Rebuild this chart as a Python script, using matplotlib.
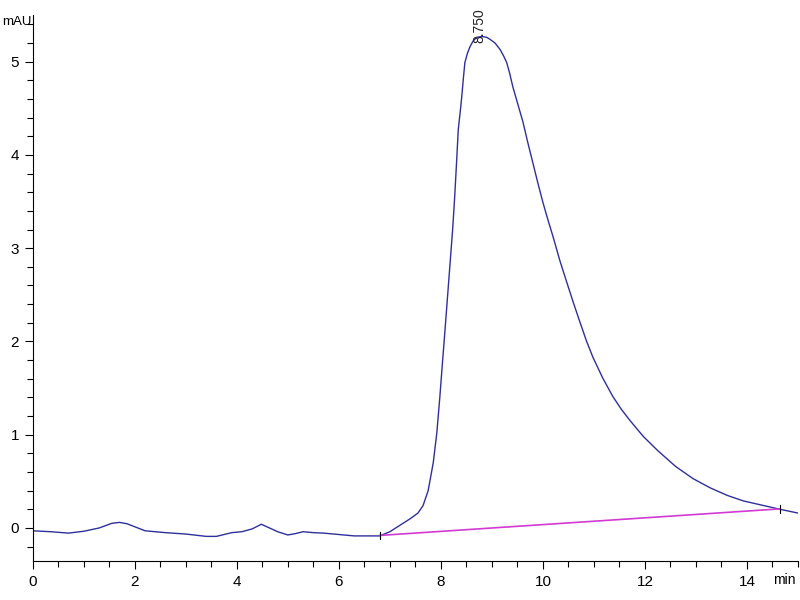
import matplotlib
matplotlib.use("Agg")
import matplotlib.pyplot as plt
from matplotlib.ticker import MultipleLocator

# retention time (min) and absorbance (mAU)
time_min = [0.0, 0.35, 0.7, 1.0, 1.3, 1.55, 1.7, 1.85, 2.2, 2.6, 3.0, 3.4, 3.6,
            3.9, 4.1, 4.3, 4.48, 4.6, 4.8, 5.0, 5.15, 5.3, 5.5, 5.7, 6.0, 6.3,
            6.8, 7.0, 7.2, 7.4, 7.55, 7.65, 7.75, 7.85, 7.92, 7.98, 8.03, 8.08,
            8.13, 8.18, 8.23, 8.27, 8.31, 8.34, 8.38, 8.41, 8.44, 8.47, 8.52,
            8.57, 8.63, 8.70, 8.80, 8.90, 8.96, 9.06, 9.16, 9.23, 9.29, 9.35,
            9.41, 9.51, 9.61, 9.70, 9.80, 9.90, 10.0, 10.1, 10.20, 10.33, 10.47,
            10.60, 10.73, 10.85, 10.98, 11.17, 11.37, 11.54, 11.71, 11.97, 12.25,
            12.60, 12.94, 13.28, 13.61, 13.93, 14.25, 14.65, 15.0]
signal_mau = [-0.03, -0.04, -0.055, -0.035, 0.0, 0.05, 0.06, 0.045, -0.03, -0.05,
              -0.065, -0.09, -0.09, -0.05, -0.04, -0.01, 0.04, 0.01, -0.04, -0.075,
              -0.06, -0.04, -0.05, -0.055, -0.07, -0.085, -0.085, -0.04, 0.03, 0.1,
              0.16, 0.24, 0.40, 0.70, 1.02, 1.41, 1.77, 2.12, 2.48, 2.84, 3.20, 3.55,
              3.95, 4.27, 4.47, 4.63, 4.82, 4.99, 5.09, 5.16, 5.22, 5.26, 5.27, 5.26,
              5.24, 5.20, 5.13, 5.06, 4.99, 4.87, 4.73, 4.54, 4.35, 4.14, 3.92, 3.70,
              3.49, 3.30, 3.12, 2.87, 2.63, 2.41, 2.20, 2.01, 1.83, 1.61, 1.41, 1.27,
              1.15, 0.98, 0.83, 0.66, 0.53, 0.43, 0.35, 0.29, 0.25, 0.20, 0.16]

# integration baseline
base_time = [6.8, 14.65]
base_mau = [-0.08, 0.205]

peak_time = 8.80
peak_mau = 5.27
peak_label = "8.750"

FONT = ["Liberation Sans Narrow", "Liberation Sans", "DejaVu Sans"]
plt.rcParams["font.family"] = FONT

fig = plt.figure(figsize=(8, 6), dpi=100)
ax = fig.add_axes([0.041, 0.065, 0.9565, 0.91])

ax.plot(time_min, signal_mau, color="#2f2f9c", lw=1.0)
ax.plot(base_time, base_mau, color="#d23ad2", lw=1.2)
for bt, bm in zip(base_time, base_mau):
    ax.plot([bt, bt], [bm - 0.04, bm + 0.04], color="black", lw=0.8)

ax.text(peak_time - 0.05, peak_mau - 0.07, peak_label, rotation=90, ha="center",
        va="bottom", fontsize=10, color="#222222")

ax.set_xlim(0, 15)
ax.set_ylim(-0.354, 5.5)
for s in ["top", "right"]:
    ax.spines[s].set_visible(False)
ax.spines["left"].set_linewidth(0.8)
ax.spines["bottom"].set_linewidth(0.8)

ax.xaxis.set_major_locator(MultipleLocator(2))
ax.xaxis.set_minor_locator(MultipleLocator(0.5))
ax.yaxis.set_major_locator(MultipleLocator(1))
ax.yaxis.set_minor_locator(MultipleLocator(0.2))
ax.tick_params(axis="both", which="major", length=6, width=0.8, labelsize=11, pad=4)
ax.tick_params(axis="both", which="minor", length=4, width=0.8)

fig.text(0.003, 0.963, "mAU", fontsize=9.5, ha="left", va="center")
fig.text(0.994, 0.033, "min", fontsize=10, ha="right", va="center")

fig.savefig("out.png", dpi=100, facecolor="white")
